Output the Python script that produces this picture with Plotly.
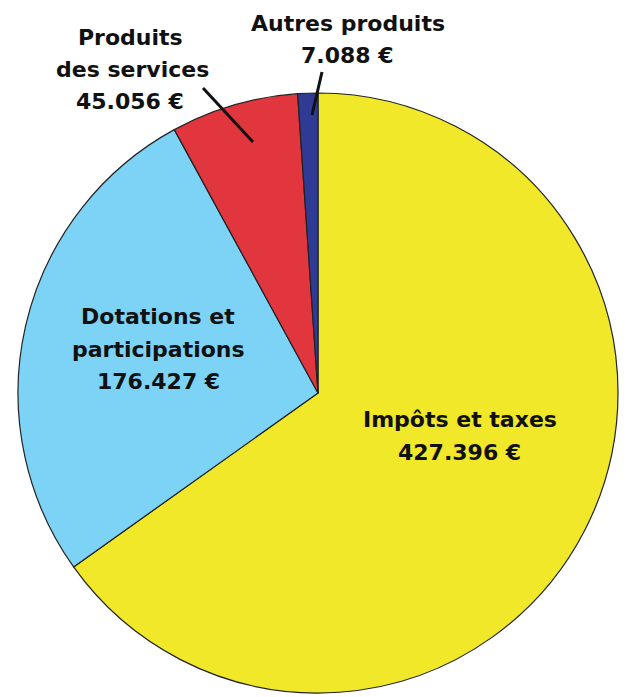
import plotly.graph_objects as go

categories = ["Impôts et taxes", "Dotations et participations", "Produits des services", "Autres produits"]
values = [427396, 176427, 45056, 7088]
value_labels = ["427.396 €", "176.427 €", "45.056 €", "7.088 €"]
colors = ["#F0E828", "#7DD3F5", "#E1363D", "#2F3A94"]

OFF = 8  # default body margin of the html page
W, H = 636 - OFF, 697 - OFF

def px(x, y):
    return (x - OFF) / W, 1 - (y - OFF) / H

cx0, cy0 = px(18, 93)
cx1, cy1 = px(618, 693)

fig = go.Figure(go.Pie(
    labels=categories,
    values=values,
    sort=False,
    direction="clockwise",
    rotation=0,
    marker=dict(colors=colors, line=dict(color="#222222", width=1.2)),
    textinfo="none",
    hoverinfo="label+value",
    domain=dict(x=[max(cx0, 0), min(cx1, 1)], y=[max(cy1, 0), min(cy0, 1)]),
    showlegend=False,
))

FONT = dict(family="DejaVu Sans", size=22, color="#111111")

# label lines (pixel centres in the reference)
lines = [
    ("<b>Impôts et taxes</b>", 460, 419),
    ("<b>" + value_labels[0] + "</b>", 459, 452),
    ("<b>Dotations et</b>", 158, 316),
    ("<b>participations</b>", 158, 349),
    ("<b>" + value_labels[1] + "</b>", 158, 381),
    ("<b>Produits</b>", 130, 37),
    ("<b>des services</b>", 132, 70),
    ("<b>" + value_labels[2] + "</b>", 130, 102),
    ("<b>Autres produits</b>", 348, 23),
    ("<b>" + value_labels[3] + "</b>", 347, 55),
]
anns = []
for t, x, y in lines:
    xp, yp = px(x, y)
    anns.append(dict(text=t, x=xp, y=yp, xref="paper", yref="paper",
                     xanchor="center", yanchor="middle", showarrow=False, font=FONT))

shapes = []
for (x0, y0, x1, y1) in [(203, 88, 253, 142), (322, 72, 312, 115)]:
    a = px(x0, y0); b = px(x1, y1)
    shapes.append(dict(type="line", xref="paper", yref="paper",
                       x0=a[0], y0=a[1], x1=b[0], y1=b[1],
                       line=dict(color="#111111", width=3)))

fig.update_layout(
    width=W, height=H,
    margin=dict(l=0, r=0, t=0, b=0),
    paper_bgcolor="white", plot_bgcolor="white",
    annotations=anns, shapes=shapes,
)

fig.write_html("out.html")
